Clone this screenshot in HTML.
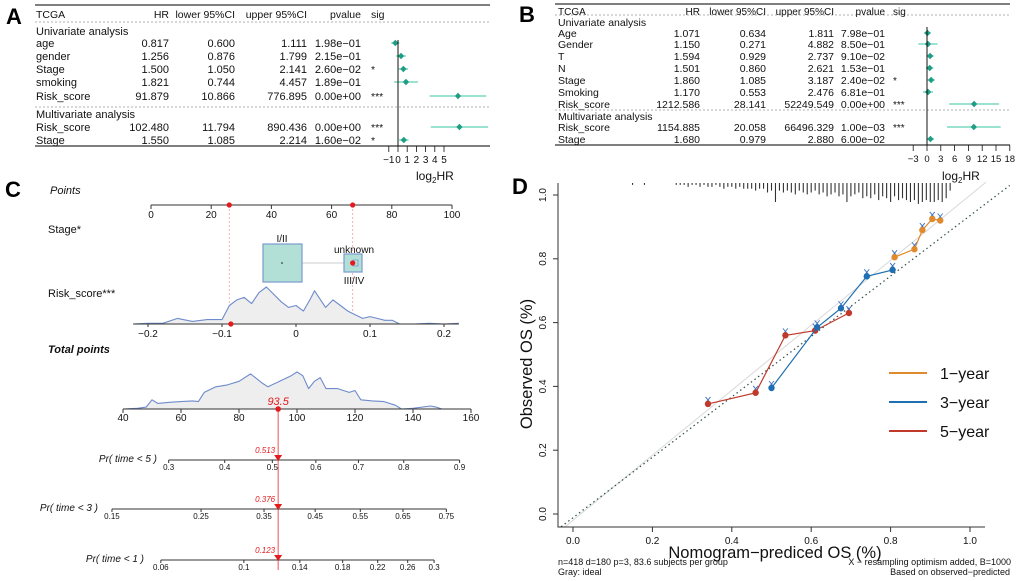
<!DOCTYPE html>
<html><head><meta charset="utf-8"><style>
html,body{margin:0;padding:0;background:#fff;}
svg{display:block;font-family:"Liberation Sans",sans-serif;}
</style></head><body>
<svg id="fig" width="1020" height="581" viewBox="0 0 1020 581" xmlns="http://www.w3.org/2000/svg">
<text x="6" y="24" font-size="22" font-weight="bold">A</text>
<text x="519" y="22" font-size="22" font-weight="bold">B</text>
<text x="5" y="197" font-size="22" font-weight="bold">C</text>
<text x="512" y="194" font-size="22" font-weight="bold">D</text>
<g id="gA"></g>
<g id="gB"></g>
<g id="gC"></g>
<g id="gD"></g>
</svg>
<script>
// ---------- Panel A data ----------
const aNames=["age","gender","Stage","smoking","Risk_score","Risk_score","Stage"];
const aHR=[0.817,1.256,1.500,1.821,91.879,102.480,1.550];
const aLo=[0.600,0.876,1.050,0.744,10.866,11.794,1.085];
const aHi=[1.111,1.799,2.141,4.457,776.895,890.436,2.214];
const aP=["1.98e\u221201","2.15e\u221201","2.60e\u221202","1.89e\u221201","0.00e+00","0.00e+00","1.60e\u221202"];
const aSig=["","","*","","***","***","*"];
const aTicks=[-1,0,1,2,3,4,5];
// ---------- Panel B data ----------
const bNames=["Age","Gender","T","N","Stage","Smoking","Risk_score","Risk_score","Stage"];
const bHR=[1.071,1.150,1.594,1.501,1.860,1.170,1212.586,1154.885,1.680];
const bLo=[0.634,0.271,0.929,0.860,1.085,0.553,28.141,20.058,0.979];
const bHi=[1.811,4.882,2.737,2.621,3.187,2.476,52249.549,66496.329,2.880];
const bP=["7.98e\u221201","8.50e\u221201","9.10e\u221202","1.53e\u221201","2.40e\u221202","6.81e\u221201","0.00e+00","1.00e\u221203","6.00e\u221202"];
const bSig=["","","","","*","","***","***",""];
const bTicks=[-3,0,3,6,9,12,15,18];
// ---------- Panel C data ----------
const pointTicks=[0,20,40,60,80,100];
const stagePoints=[26,67];
const riskTicks=[-0.2,-0.1,0,0.1,0.2];
const riskDensX=[-0.22,-0.2,-0.18,-0.16,-0.14,-0.12,-0.10,-0.09,-0.08,-0.07,-0.06,-0.05,-0.04,-0.03,-0.02,-0.01,0,0.01,0.02,0.025,0.03,0.04,0.05,0.06,0.07,0.08,0.09,0.1,0.12,0.13,0.14,0.16,0.18,0.2,0.22];
const riskDensY=[0,0.02,0.02,0.15,0.07,0.12,0.12,0.5,0.65,0.72,0.55,0.85,1.0,0.8,0.6,0.45,0.5,0.35,0.7,0.9,0.75,0.45,0.65,0.5,0.35,0.25,0.15,0.2,0.1,0.1,0,0,0.02,0,0.02];
const riskValue=-0.088;
const totalTicks=[40,60,80,100,120,140,160];
const totDensX=[40,45,48,50,52,56,60,64,66,68,72,76,80,84,88,90,94,98,100,102,104,106,108,110,114,118,120,122,126,130,134,136,140,146,148,150];
const totDensY=[0,0.02,0.05,0.25,0.15,0.18,0.2,0.22,0.2,0.45,0.6,0.65,0.75,0.95,0.7,0.6,0.75,0.9,1.0,0.9,0.55,0.75,0.85,0.55,0.55,0.45,0.5,0.25,0.22,0.2,0.1,0,0.02,0.08,0.05,0];
const totalValue=93.5;
const pr5Ticks=[0.3,0.4,0.5,0.6,0.7,0.8,0.9];
const pr3Ticks=[0.15,0.25,0.35,0.45,0.55,0.65,0.75];
const pr1Ticks=[0.06,0.1,0.14,0.18,0.22,0.26,0.3];
const prValues=[0.513,0.376,0.123];
// ---------- Panel D data ----------
const xyTicks=[0,0.2,0.4,0.6,0.8,1.0];
const y1Pred=[0.81,0.86,0.88,0.905,0.925], y1Obs=[0.805,0.83,0.89,0.925,0.92];
const y3Pred=[0.50,0.615,0.675,0.74,0.805], y3Obs=[0.395,0.585,0.645,0.745,0.765];
const y5Pred=[0.34,0.46,0.535,0.61,0.695], y5Obs=[0.345,0.38,0.56,0.575,0.63];
const rugCounts=[1,0,0,1,0,0,0,0,0,0, 0,1,1,1,2,1,1,2,1,2, 2,1,2,3,2,2,3,2,3,3, 3,4,3,3,5,4,10,4,5,4, 5,6,4,5,6,5,4,6,5,7, 6,5,7,6,10,7,6,5,8,7, 8,6,9,7,8,10,7,9,8,9, 10,9,11,10,9,10,10,9,10,8, 4];

const NS="http://www.w3.org/2000/svg";
function mk(parent,tag,attrs,txt){const e=document.createElementNS(NS,tag);for(const k in attrs)e.setAttribute(k,attrs[k]);if(txt!==undefined)e.textContent=txt;parent.appendChild(e);return e;}
const log2=v=>Math.log(v)/Math.log(2);

// ---------- forest builder ----------
function forest(g,cfg,names,hr,lo,hi,pv,sig,ticks){
  const fs=cfg.fs;
  let e;
  e=mk(g,"line",{x1:cfg.x0,x2:cfg.x1,y1:cfg.top,y2:cfg.top,stroke:"#333","stroke-width":1.3});
  
  e=mk(g,"line",{x1:cfg.x0,x2:cfg.x1,y1:cfg.bottom,y2:cfg.bottom,stroke:"#333","stroke-width":1.3});
  
  cfg.dots.forEach(y=>{e=mk(g,"line",{x1:cfg.x0,x2:cfg.x1,y1:y,y2:y,stroke:"#999","stroke-dasharray":"2,2","stroke-width":0.8});
  });
  const hdr=["TCGA","HR","lower 95%CI","upper 95%CI","pvalue","sig"];
  const hx=[cfg.cl,cfg.c[0],cfg.c[1],cfg.c[2],cfg.c[3],cfg.cs];
  const ha=["start","end","end","end","end","start"];
  hdr.forEach((h,i)=>{e=mk(g,"text",{x:hx[i],y:cfg.hy,"font-size":fs,"text-anchor":ha[i],fill:"#111"},h);
  });
  e=mk(g,"text",{x:cfg.cl,y:cfg.uy,"font-size":fs+0.5,fill:"#111"},"Univariate analysis");
  
  e=mk(g,"text",{x:cfg.cl,y:cfg.my,"font-size":fs+0.5,fill:"#111"},"Multivariate analysis");
  
  const xs=v=>cfg.z+v*cfg.k;
  names.forEach((n,i)=>{
    const yc=cfg.rows[i], yb=yc+4;
    e=mk(g,"text",{x:cfg.cl,y:yb,"font-size":fs+0.5,fill:"#111"},n);
    
    e=mk(g,"text",{x:cfg.c[0],y:yb,"font-size":fs+0.5,"text-anchor":"end",fill:"#111"},hr[i].toFixed(3));
    
    e=mk(g,"text",{x:cfg.c[1],y:yb,"font-size":fs+0.5,"text-anchor":"end",fill:"#111"},lo[i].toFixed(3));
    
    e=mk(g,"text",{x:cfg.c[2],y:yb,"font-size":fs+0.5,"text-anchor":"end",fill:"#111"},hi[i].toFixed(3));
    
    e=mk(g,"text",{x:cfg.c[3],y:yb,"font-size":fs+0.5,"text-anchor":"end",fill:"#111"},pv[i]);
    
    e=mk(g,"text",{x:cfg.cs,y:yb,"font-size":fs,fill:"#111"},sig[i]);
    
    e=mk(g,"line",{x1:xs(log2(lo[i])),x2:Math.min(xs(log2(hi[i])),cfg.x1),y1:yc,y2:yc,stroke:"#5fd0b4","stroke-width":1.3});
    
    const px=xs(log2(hr[i]));
    e=mk(g,"path",{d:`M${px-3.2},${yc}L${px},${yc-3.2}L${px+3.2},${yc}L${px},${yc+3.2}Z`,fill:"#1f9e85"});
    
  });
  e=mk(g,"line",{x1:cfg.z,x2:cfg.z,y1:cfg.vt,y2:cfg.bottom,stroke:"#111","stroke-width":1});
  
  ticks.forEach(t=>{
    e=mk(g,"line",{x1:xs(t),x2:xs(t),y1:cfg.bottom,y2:cfg.bottom+6,stroke:"#111","stroke-width":0.8});
    
    e=mk(g,"text",{x:xs(t),y:cfg.bottom+17,"font-size":fs-0.5,"text-anchor":"middle",fill:"#111"},String(t).replace("-","\u2212"));
    
  });
  e=mk(g,"text",{x:cfg.lx,y:180,"font-size":12,fill:"#111"},"log");
  
  mk(e,"tspan",{"font-size":8,dy:3},"2");
  mk(e,"tspan",{dy:-3},"HR");
}
forest(document.getElementById("gA"),{fs:10.5,x0:35,x1:490,top:5,bottom:146,dots:[22,107],hy:18,uy:35,my:118,
  cl:36,c:[169,235,307,361],cs:371,rows:[43,56,69,82,96,127,140],z:398,k:9.2,vt:40,lx:416},aNames,aHR,aLo,aHi,aP,aSig,aTicks);
forest(document.getElementById("gB"),{fs:10,x0:555,x1:1010,top:4,bottom:145,dots:[15,110],hy:15,uy:26,my:120,
  cl:558,c:[700,766,834,885],cs:893,rows:[33,44,56,68,80,92,104,127,139],z:927,k:4.6,vt:27,lx:942},bNames,bHR,bLo,bHi,bP,bSig,bTicks);

// ---------- Panel C ----------
(function(){
  const g=document.getElementById("gC");let e;
  const px=v=>151+v*3.01;
  const rx=v=>296+v*740;
  const tx=v=>123+(v-40)*2.9;
  const cll=p=>Math.log(-Math.log(1-p));
  function lbl(x,y,t,name,opt){e=mk(g,"text",Object.assign({x:x,y:y,"font-size":11,fill:"#111"},opt||{}),t);return e;}
  lbl(50,194,"Points","points-label",{"font-style":"italic"});
  lbl(48,233,"Stage*","stage-label");
  lbl(48,297,"Risk_score***","risk-score-label");
  lbl(48,353,"Total points","total-points-label",{"font-style":"italic","font-weight":"bold"});
  stagePoints.forEach(s=>{e=mk(g,"line",{x1:px(s),x2:px(s),y1:205,y2:324,stroke:"#f4a0a0","stroke-dasharray":"2,2","stroke-width":0.8});
  });
  e=mk(g,"line",{x1:px(0),x2:px(100),y1:205,y2:205,stroke:"#333"});
  
  pointTicks.forEach(t=>{e=mk(g,"line",{x1:px(t),x2:px(t),y1:205,y2:209,stroke:"#333"});
  
  lbl(px(t),218,String(t),"points-tick-label",{"font-size":10,"text-anchor":"middle"});});
  stagePoints.forEach(s=>{e=mk(g,"circle",{cx:px(s),cy:205,r:2.6,fill:"#e41a1c"});
  });
  e=mk(g,"line",{x1:302,x2:344,y1:263,y2:263,stroke:"#ccc"});
  
  e=mk(g,"rect",{x:263,y:244,width:39,height:38,fill:"#b3e0d6",stroke:"#7b9ad0","stroke-width":1.2});
  
  e=mk(g,"circle",{cx:282,cy:263,r:0.8,fill:"#111"});
  
  e=mk(g,"rect",{x:344,y:254,width:18,height:18,fill:"#b3e0d6",stroke:"#7b9ad0","stroke-width":1.2});
  
  e=mk(g,"rect",{x:353,y:260,width:5,height:6,fill:"#b3e0d6",stroke:"#7b9ad0","stroke-width":0.8});
  
  e=mk(g,"circle",{cx:px(stagePoints[1]),cy:263,r:2.6,fill:"#e41a1c"});
  
  lbl(282,242,"I/II","stage-level-i-ii",{"font-size":10,"text-anchor":"middle"});
  lbl(354,253,"unknown","stage-level-unknown",{"font-size":10,"text-anchor":"middle"});
  lbl(354,284,"III/IV","stage-level-iii-iv",{"font-size":10,"text-anchor":"middle"});
  function dens(xs,ys,sx,base,h,name){
    let d=`M${sx(xs[0])},${base}`;xs.forEach((x,i)=>{d+=`L${sx(x).toFixed(1)},${(base-ys[i]*h).toFixed(1)}`;});
    e=mk(g,"path",{d:d+`L${sx(xs[xs.length-1])},${base}Z`,fill:"#eeeeee",stroke:"none"});
    
    let d2="";xs.forEach((x,i)=>{d2+=(i?"L":"M")+sx(x).toFixed(1)+","+(base-ys[i]*h).toFixed(1);});
    e=mk(g,"path",{d:d2,fill:"none",stroke:"#6e8bcb","stroke-width":1.1,"stroke-linejoin":"round"});
    
  }
  dens(riskDensX,riskDensY,rx,324,37,"risk-density");
  e=mk(g,"line",{x1:rx(-0.22),x2:rx(0.22),y1:324,y2:324,stroke:"#333"});
  
  riskTicks.forEach(t=>{e=mk(g,"line",{x1:rx(t),x2:rx(t),y1:324,y2:327,stroke:"#333"});
  
  lbl(rx(t),337,String(t).replace("-","\u2212"),"risk-tick-label",{"font-size":10,"text-anchor":"middle"});});
  e=mk(g,"circle",{cx:rx(riskValue),cy:324,r:2.6,fill:"#e41a1c"});
  
  dens(totDensX,totDensY,tx,409,37,"total-density");
  e=mk(g,"line",{x1:tx(40),x2:tx(160),y1:409,y2:409,stroke:"#333"});
  
  totalTicks.forEach(t=>{e=mk(g,"line",{x1:tx(t),x2:tx(t),y1:409,y2:413,stroke:"#333"});
  
  lbl(tx(t),421,String(t),"total-tick-label",{"font-size":10,"text-anchor":"middle"});});
  const T=tx(totalValue);
  e=mk(g,"line",{x1:T,x2:T,y1:409,y2:570,stroke:"#e8555a","stroke-width":1});
  
  e=mk(g,"circle",{cx:T,cy:409,r:2.8,fill:"#e41a1c"});
  
  lbl(T,405,String(totalValue),"total-points-value",{"font-size":11,"text-anchor":"middle",fill:"#e41a1c","font-style":"italic"});
  const prAxes=[{ticks:pr5Ticks,y:460,lab:"Pr( time < 5 )",lx:157,name:"pr-5"},
                {ticks:pr3Ticks,y:509,lab:"Pr( time < 3 )",lx:98,name:"pr-3"},
                {ticks:pr1Ticks,y:560,lab:"Pr( time < 1 )",lx:144,name:"pr-1"}];
  prAxes.forEach((a,i)=>{
    const ref=cll(prValues[i]);
    const sx=p=>T+(cll(p)-ref)*156;
    lbl(a.lx,a.y+2,a.lab,a.name+"-label",{"font-size":10,"font-style":"italic","text-anchor":"end"});
    e=mk(g,"line",{x1:sx(a.ticks[0]),x2:sx(a.ticks[a.ticks.length-1]),y1:a.y,y2:a.y,stroke:"#333"});
    
    a.ticks.forEach(t=>{e=mk(g,"line",{x1:sx(t),x2:sx(t),y1:a.y,y2:a.y+3,stroke:"#333"});
    
    lbl(sx(t),a.y+10,String(t),a.name+"-tick-label",{"font-size":8,"text-anchor":"middle"});});
    const m=sx(prValues[i]);
    e=mk(g,"path",{d:`M${m-4},${a.y-5}L${m+4},${a.y-5}L${m},${a.y+1}Z`,fill:"#e41a1c"});
    
    lbl(m-3,a.y-7,prValues[i].toFixed(3),a.name+"-value",{"font-size":8,"text-anchor":"end",fill:"#e41a1c","font-style":"italic"});
  });
})();

// ---------- Panel D ----------
(function(){
  const g=document.getElementById("gD");let e;
  const X=v=>573+v*397, Y=v=>514-v*319;
  rugCounts.forEach((c,i)=>{if(!c)return;const x=X(0.15+i*0.01);
    e=mk(g,"line",{x1:x,x2:x,y1:183,y2:183+c*1.9,stroke:"#333","stroke-width":1.1});
    });
  e=mk(g,"line",{x1:X(-0.02),x2:X(1.04),y1:Y(-0.04),y2:Y(1.04),stroke:"#d8d8d8","stroke-width":1});
  
  e=mk(g,"line",{x1:X(-0.03),x2:X(1.1),y1:Y(-0.04),y2:Y(1.03),stroke:"#2f4f4f","stroke-width":1.2,"stroke-dasharray":"1.5,3"});
  
  e=mk(g,"path",{d:"M558,183L558,527L985,527",fill:"none",stroke:"#333","stroke-width":1});
  
  xyTicks.forEach(t=>{
    e=mk(g,"line",{x1:X(t),x2:X(t),y1:527,y2:532,stroke:"#333"});
    
    e=mk(g,"text",{x:X(t),y:544,"font-size":10,"text-anchor":"middle",fill:"#111"},t.toFixed(1));
    
    e=mk(g,"line",{x1:553,x2:558,y1:Y(t),y2:Y(t),stroke:"#333"});
    
    e=mk(g,"text",{x:0,y:0,"font-size":10,"text-anchor":"middle",fill:"#111",transform:`translate(546,${Y(t)}) rotate(-90)`},t.toFixed(1));
    
  });
  e=mk(g,"text",{x:775,y:558,"font-size":16.5,"text-anchor":"middle",fill:"#111"},"Nomogram\u2212prediced OS (%)");
  
  e=mk(g,"text",{x:0,y:0,"font-size":16.5,"text-anchor":"middle",fill:"#111",transform:"translate(532,364) rotate(-90)"},"Observed OS (%)");
  
  const foot=[[558,565,"start","n=418 d=180 p=3, 83.6 subjects per group"],[558,575,"start","Gray: ideal"],
              [1011,565,"end","X \u2212 resampling optimism added, B=1000"],[1010,575,"end","Based on observed\u2212predicted"]];
  foot.forEach(f=>{e=mk(g,"text",{x:f[0],y:f[1],"font-size":9,"text-anchor":f[2],fill:"#111"},f[3]);
  });
  const series=[[y5Pred,y5Obs,"#c0392b","5-year"],[y3Pred,y3Obs,"#1f6fb2","3-year"],[y1Pred,y1Obs,"#e08a2c","1-year"]];
  series.forEach(s=>{
    let d="";s[0].forEach((p,i)=>{d+=(i?"L":"M")+X(p).toFixed(1)+","+Y(s[1][i]).toFixed(1);});
    e=mk(g,"path",{d:d,fill:"none",stroke:s[2],"stroke-width":1.2});
    
    s[0].forEach((p,i)=>{
      const cx=X(p),cy=Y(s[1][i]);
      e=mk(g,"path",{d:`M${cx-2.5},${cy-7}L${cx+2.5},${cy-1}M${cx+2.5},${cy-7}L${cx-2.5},${cy-1}`,stroke:"#3a6fc0","stroke-width":0.9});
      
      e=mk(g,"circle",{cx:cx,cy:cy,r:3.2,fill:s[2]});
      
    });
  });
  const leg=[["1\u2212year","#e08a2c",373],["3\u2212year","#1f6fb2",402],["5\u2212year","#c0392b",431]];
  leg.forEach(l=>{
    e=mk(g,"line",{x1:889,x2:927,y1:l[2],y2:l[2],stroke:l[1],"stroke-width":2});
    
    e=mk(g,"text",{x:940,y:l[2]+6,"font-size":16,fill:"#111"},l[0]);
    
  });
})();
</script>
</body></html>
